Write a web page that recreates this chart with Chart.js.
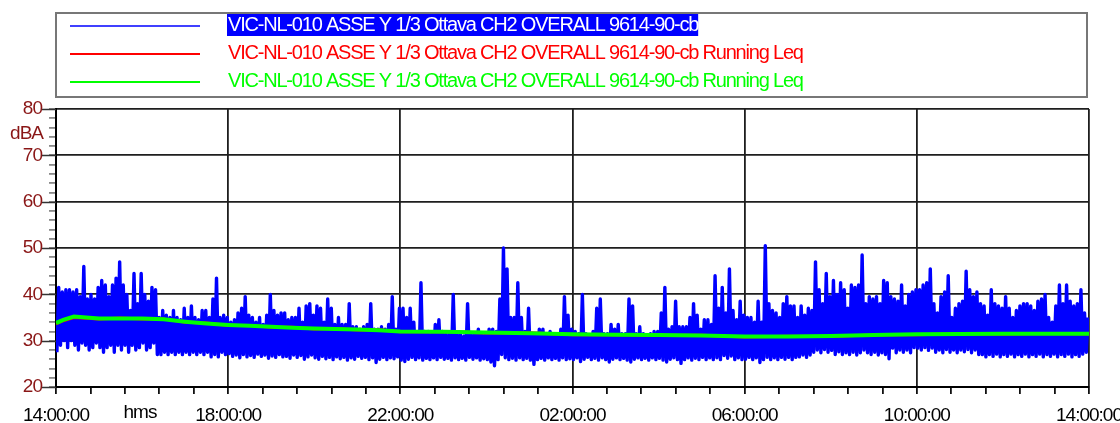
<!DOCTYPE html>
<html>
<head>
<meta charset="utf-8">
<script src="https://cdn.jsdelivr.net/npm/chart.js@4"></script>
<style>
html, body { margin: 0; padding: 0; background: #fff; }
</style>
</head>
<body>
<canvas id="leqChart" width="1120" height="423"></canvas>
<script>
// x axis runs in minutes after 14:00:00, 24 hours
const timeLabels = ['14:00:00', '18:00:00', '22:00:00', '02:00:00', '06:00:00', '10:00:00', '14:00:00'];
const binMinutes = 5;

// blue series, max and min level of every 5 minute block (dBA)
const blueHigh = [
    // 14:00 - 18:00
    41.5, 40.5, 41, 41, 40.5, 41, 39.5, 46, 39, 40, 39, 41.5, 43, 42, 39.5, 42, 43.5, 47, 42, 40, 36.5, 44.5, 38, 44.5,
    40, 38.5, 41.5, 41, 35, 36.5, 35.5, 35, 36.5, 35, 34.5, 37, 35, 37.5, 35, 34.5, 36.5, 36.5, 35, 39, 43.5, 35, 35.5, 35,
    // 18:00 - 22:00
    34, 34.5, 36, 37, 39.5, 35.5, 35, 34, 35, 33.5, 35.5, 40, 36.5, 35.5, 36, 36, 34.5, 35, 35, 37, 34, 37.5, 38, 35.5,
    37.5, 37, 34, 39, 37, 33.5, 35, 33.5, 33.5, 38, 33, 33, 32.5, 33, 33.5, 38, 32.5, 32.5, 33, 32.5, 33.5, 39.5, 32.5, 37,
    // 22:00 - 02:00
    37, 35, 37, 34, 31.5, 42.5, 32, 32, 31.5, 33.5, 34.5, 32, 31.5, 31.5, 40, 31.5, 31.5, 31, 38, 31.5, 31.5, 32.5, 31.5, 31.5,
    32.5, 32.5, 32, 39, 50, 45.5, 35, 35, 42.5, 35, 32, 37, 31.5, 31.5, 32.5, 32.5, 31.5, 32, 31.5, 31.5, 32.5, 39.5, 35.5, 32.5,
    // 02:00 - 06:00
    32, 31.5, 40, 31.5, 31, 32, 37, 39, 31.5, 31.5, 33.5, 32.5, 33.5, 31.5, 31.5, 39, 37.5, 31.5, 33, 31.5, 31, 31.5, 32, 32,
    36, 41.5, 32.5, 33, 38.5, 33, 33, 33, 35, 38, 35.5, 32.5, 34.5, 34.5, 33.5, 44, 37, 41.5, 36, 45.5, 36.5, 34.5, 38.5, 35.5,
    // 06:00 - 10:00
    35, 35, 34, 38.5, 34, 50.5, 38, 36.5, 36, 35, 38, 39.5, 37.5, 37.5, 35, 37.5, 35.5, 37, 36.5, 47, 41, 38, 44.5, 39.5,
    43, 40, 42.5, 41, 37, 42, 41.5, 42, 48.5, 38, 39.5, 39, 39.5, 38, 43, 42.5, 39.5, 39, 38.5, 42, 37.5, 40, 40.5, 41,
    // 10:00 - 14:00
    41, 42, 42.5, 45.5, 38, 36, 39.5, 40.5, 44, 35, 37, 38, 38.5, 45, 41, 39.5, 40.5, 38, 37.5, 35.5, 41, 38, 37.5, 37,
    39.5, 37, 35, 36.5, 37.5, 38, 38, 37.5, 36.5, 38.5, 39, 40, 35, 34, 37.5, 42, 38, 42, 38.5, 37.5, 38, 41, 36, 35
];
const blueLow = [
    // 14:00 - 18:00
    27.5, 29, 30, 28.5, 30, 29, 28, 29.5, 29, 28, 28.5, 29.5, 28.5, 27.5, 28.5, 29, 27.5, 29, 28, 29, 27.5, 29, 28, 28.5,
    29.5, 28, 28.5, 29.5, 27, 27, 27.5, 27, 27.5, 27, 27.5, 27, 27.5, 27, 27.5, 27, 27.5, 27, 27.5, 26.5, 27, 26.5, 27.5, 27,
    // 18:00 - 22:00
    27.2, 26.6, 26.9, 26.3, 27.0, 26.5, 26.8, 26.4, 27.1, 26.6, 26.9, 26.2, 26.7, 26.4, 27.0, 26.5, 26.6, 26.2, 26.9, 26.4, 26.8, 26.0, 26.5, 26.9,
    26.3, 26.0, 26.6, 26.1, 26.4, 25.9, 26.5, 26.1, 26.4, 25.8, 26.3, 26.0, 26.6, 26.2, 26.4, 25.9, 26.3, 25.3, 26.0, 26.4, 25.9, 26.3, 26.1, 26.5,
    // 22:00 - 02:00
    25.8, 25.5, 26.0, 26.4, 25.9, 26.3, 25.8, 26.2, 25.9, 26.3, 25.9, 26.4, 26.0, 26.2, 25.8, 26.3, 25.9, 26.2, 25.8, 26.4, 26.0, 26.3, 25.8, 26.1,
    25.9, 25.4, 24.6, 25.9, 27.0, 26.3, 25.9, 26.2, 25.8, 26.3, 25.9, 26.2, 25.8, 24.9, 25.9, 26.2, 25.8, 26.3, 25.9, 26.2, 25.8, 26.3, 25.9, 26.1,
    // 02:00 - 06:00
    25.9, 26.3, 25.5, 26.0, 26.4, 25.9, 26.2, 25.8, 26.3, 25.9, 25.4, 26.0, 26.3, 25.9, 26.2, 25.8, 25.4, 26.0, 26.3, 25.9, 26.2, 25.8, 26.3, 25.9,
    26.2, 25.8, 25.4, 26.0, 26.3, 25.9, 25.1, 25.9, 26.3, 25.8, 26.2, 25.9, 26.4, 25.9, 26.3, 25.9, 26.3, 25.9, 26.8, 26.2, 26.7, 25.9, 26.3, 25.9,
    // 06:00 - 10:00
    26.0, 26.4, 25.9, 26.3, 25.3, 25.9, 26.4, 25.9, 26.3, 25.9, 26.4, 26.0, 26.4, 25.9, 26.4, 26.5, 26.9, 26.4, 26.9, 27.5, 28.0, 27.4, 28.1, 27.5,
    27.9, 27.0, 27.6, 27.0, 27.4, 27.0, 27.5, 26.9, 27.4, 28.0, 27.4, 27.0, 27.5, 26.9, 27.4, 27.0, 26.1, 28.4, 27.4, 28.0, 27.5, 28.0, 27.4, 28.5,
    // 10:00 - 14:00
    28.4, 28.0, 28.5, 27.9, 28.4, 27.5, 28.0, 27.4, 28.1, 27.5, 28.0, 27.4, 28.0, 27.6, 28.1, 27.4, 28.0, 27.0, 27.0, 26.5, 27.0, 26.6, 27.1, 26.5,
    27.0, 26.6, 27.1, 26.5, 27.0, 26.6, 27.1, 26.5, 27.0, 26.6, 27.1, 26.5, 27.0, 26.6, 27.1, 26.5, 27.0, 26.6, 27.1, 26.5, 27.0, 26.6, 27.1, 27.5
];

// running Leq curves
const leqMinutes = [0, 10, 25, 60, 90, 120, 150, 180, 210, 240, 270, 300, 330, 360, 390, 420, 450, 480,
    540, 600, 660, 720, 780, 840, 900, 960, 1020, 1080, 1140, 1200, 1260, 1320, 1380, 1440];
const redLeq = [33.6, 34.3, 35.0, 34.7, 34.9, 34.7, 34.7, 34.0, 33.8, 33.3, 33.3, 32.9, 32.9, 32.5, 32.6, 32.3, 32.35, 31.9,
    32.0, 31.65, 31.7, 31.3, 31.35, 31.1, 31.15, 30.8, 30.95, 30.9, 31.25, 31.3, 31.5, 31.4, 31.55, 31.45];
const greenLeq = [33.8, 34.5, 35.2, 34.8, 34.8, 34.8, 34.6, 34.1, 33.7, 33.4, 33.2, 33.0, 32.8, 32.6, 32.5, 32.4, 32.25, 32.0,
    31.9, 31.75, 31.6, 31.4, 31.3, 31.2, 31.1, 30.9, 30.9, 31.0, 31.2, 31.4, 31.45, 31.5, 31.5, 31.5];

const legendNames = [
    'VIC-NL-010 ASSE Y 1/3 Ottava CH2 OVERALL 9614-90-cb',
    'VIC-NL-010 ASSE Y 1/3 Ottava CH2 OVERALL 9614-90-cb Running Leq',
    'VIC-NL-010 ASSE Y 1/3 Ottava CH2 OVERALL 9614-90-cb Running Leq'
];
const legendColors = ['#0000ff', '#ff0000', '#00ff00'];
const darkRed = '#8a1616';
const fontFamily = '"Liberation Sans", Arial, sans-serif';

// min/max per block -> one dense zigzag line
const blueData = [];
blueHigh.forEach((hi, i) => {
    blueData.push({ x: i * binMinutes + 1.25, y: blueLow[i] });
    blueData.push({ x: i * binMinutes + 3.75, y: hi });
});
const redData = leqMinutes.map((m, i) => ({ x: m, y: redLeq[i] }));
const greenData = leqMinutes.map((m, i) => ({ x: m, y: greenLeq[i] }));

const extras = {
    id: 'extras',
    beforeDraw(chart) {
        chart.ctx.letterSpacing = '-1px';
    },
    afterDraw(chart) {
        const ctx = chart.ctx;
        const yScale = chart.scales.y;
        ctx.save();

        // longer tick marks at the labelled values
        ctx.strokeStyle = '#333';
        ctx.lineWidth = 1.5;
        for (let v = 20; v <= 80; v += 10) {
            const y = Math.round(yScale.getPixelForValue(v)) + 0.5;
            ctx.beginPath();
            ctx.moveTo(42, y);
            ctx.lineTo(56, y);
            ctx.stroke();
        }

        ctx.font = '19px ' + fontFamily;
        ctx.letterSpacing = '-1px';
        ctx.textBaseline = 'middle';
        ctx.textAlign = 'right';
        ctx.fillStyle = darkRed;
        ctx.fillText('dBA', 43, 134);
        ctx.textAlign = 'center';
        ctx.fillStyle = '#000';
        ctx.fillText('hms', 140, 413);

        // legend box
        ctx.strokeStyle = '#777';
        ctx.lineWidth = 2;
        ctx.strokeRect(56, 13, 1031, 84);
        ctx.font = '20px ' + fontFamily;
        ctx.letterSpacing = '-1.2px';
        ctx.textAlign = 'left';
        legendNames.forEach((name, i) => {
            const y = 25 + i * 28;
            ctx.strokeStyle = legendColors[i];
            ctx.lineWidth = i === 0 ? 1.5 : 2;
            ctx.beginPath();
            ctx.moveTo(70, y + 1);
            ctx.lineTo(200, y + 1);
            ctx.stroke();
            const w = ctx.measureText(name).width;
            if (i === 0) {
                ctx.fillStyle = '#0000ff';
                ctx.fillRect(227, 14, w + 1, 22);
                ctx.fillStyle = '#fff';
            } else {
                ctx.fillStyle = legendColors[i];
            }
            ctx.fillText(name, 228, y);
        });
        ctx.restore();
    }
};

new Chart(document.getElementById('leqChart'), {
    type: 'line',
    data: {
        datasets: [
            { label: legendNames[0], data: blueData, borderColor: '#0000ff', borderWidth: 3.4, borderJoinStyle: 'round', order: 3 },
            { label: legendNames[1], data: redData, borderColor: '#ff0000', borderWidth: 3, order: 2 },
            { label: legendNames[2], data: greenData, borderColor: '#00ff00', borderWidth: 4, order: 1 }
        ]
    },
    options: {
        responsive: false,
        animation: false,
        devicePixelRatio: 1,
        elements: { point: { radius: 0 }, line: { tension: 0 } },
        layout: { padding: { top: 109, right: 31, left: 0, bottom: 0 } },
        plugins: {
            legend: { display: false },
            tooltip: { enabled: false }
        },
        scales: {
            x: {
                type: 'linear',
                min: 0,
                max: 1440,
                afterFit: s => { s.height = 36; s.paddingLeft = 0; s.paddingRight = 0; },
                border: { display: true, color: '#000', width: 2 },
                grid: {
                    color: c => (c.tick && c.tick.value % 240 === 0) ? '#1e1e1e' : 'rgba(0,0,0,0)',
                    tickColor: '#111',
                    lineWidth: 1.8,
                    tickLength: 7
                },
                ticks: {
                    stepSize: 48,
                    autoSkip: false,
                    maxRotation: 0,
                    padding: 10,
                    color: '#000',
                    font: { family: fontFamily, size: 19 },
                    callback: v => v % 240 === 0 ? timeLabels[v / 240] : ''
                }
            },
            y: {
                min: 20,
                max: 80,
                afterFit: s => { s.width = 56; s.paddingTop = 0; s.paddingBottom = 0; },
                border: { display: true, color: '#000', width: 2 },
                grid: {
                    color: c => (c.tick && c.tick.value % 10 === 0) ? '#1e1e1e' : 'rgba(0,0,0,0)',
                    tickColor: '#8a8a8a',
                    lineWidth: 1.8,
                    tickLength: 7
                },
                ticks: {
                    stepSize: 2,
                    autoSkip: false,
                    padding: 7,
                    color: darkRed,
                    font: { family: fontFamily, size: 19 },
                    callback: v => v % 10 === 0 ? String(v) : ''
                }
            }
        }
    },
    plugins: [extras]
});
</script>
</body>
</html>
